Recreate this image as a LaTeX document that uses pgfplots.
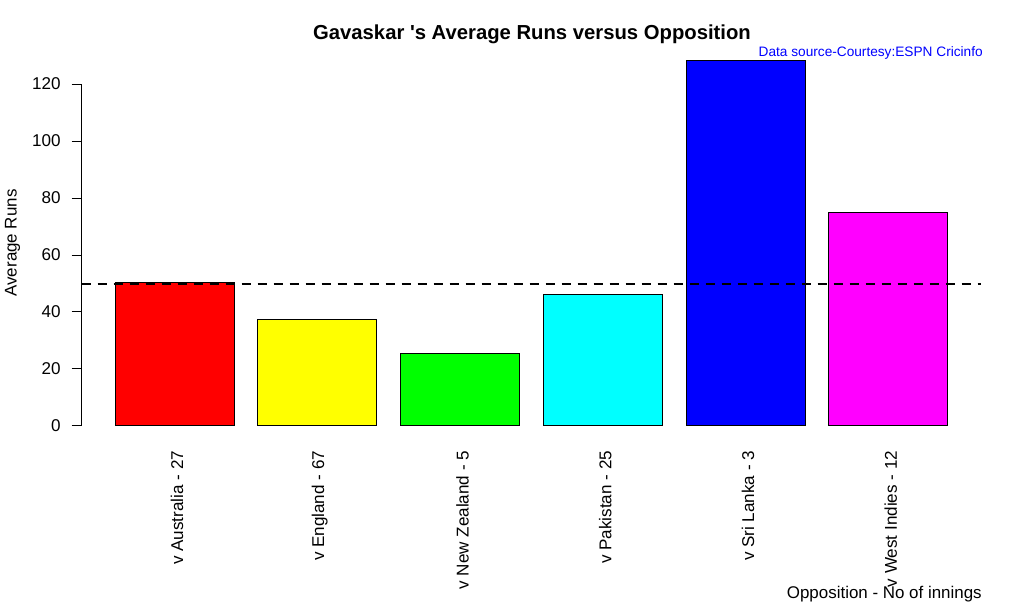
\documentclass[border=0pt]{standalone}
\usepackage{fontspec}
\setmainfont{Liberation Sans}
\usepackage{pgfplots}
\pgfplotsset{compat=1.18}
\definecolor{rred}{RGB}{255,0,0}
\definecolor{ryellow}{RGB}{255,255,0}
\definecolor{rgreen}{RGB}{0,255,0}
\definecolor{rcyan}{RGB}{0,255,255}
\definecolor{rblue}{RGB}{0,0,255}
\definecolor{rmagenta}{RGB}{255,0,255}
\begin{document}
\begin{tikzpicture}
\useasboundingbox (0pt,0pt) rectangle (768pt,460.5pt);
\begin{axis}[
  at={(61.275pt,130.05pt)}, anchor=south west,
  scale only axis, width=674.7pt, height=295.7pt,
  xmin=-0.08, xmax=7.48, ymin=-5.124, ymax=133.22,
  clip=false,
  axis line style={draw=none},
  ytick={0,20,...,120}, ytick pos=left, tick align=outside,
  major tick length=7.5pt,
  ytick style={black, line width=0.75pt},
  xtick={0.7,1.9,3.1,4.3,5.5,6.7},
  xticklabels={v Australia - 27, v England - 67, v New Zealand - 5, v Pakistan - 25, v Sri Lanka - 3, v West Indies - 12},
  xtick style={draw=none},
  xtick pos=bottom,
  tick label style={font=\fontsize{12.8}{15}\selectfont},
  /pgf/number format/assume math mode=true,
  xticklabel style={rotate=90, anchor=east, inner sep=0pt, yshift=-1.8pt},
  yticklabel style={anchor=east, inner sep=0pt, xshift=-8.2pt},
]
\addplot[ybar, bar width=1, fill=rred, draw=black, line width=0.75pt] coordinates {(0.7,50.5)};
\addplot[ybar, bar width=1, fill=ryellow, draw=black, line width=0.75pt] coordinates {(1.9,37.2)};
\addplot[ybar, bar width=1, fill=rgreen, draw=black, line width=0.75pt] coordinates {(3.1,25.3)};
\addplot[ybar, bar width=1, fill=rcyan, draw=black, line width=0.75pt] coordinates {(4.3,46.0)};
\addplot[ybar, bar width=1, fill=rblue, draw=black, line width=0.75pt] coordinates {(5.5,128.1)};
\addplot[ybar, bar width=1, fill=rmagenta, draw=black, line width=0.75pt] coordinates {(6.7,75.0)};
\addplot[black, line width=1.5pt, dash pattern=on 6.75pt off 5.25pt] coordinates {(-0.08,50) (7.48,50)};
\draw[line width=0.75pt] (axis cs:-0.08,0) -- (axis cs:-0.08,120);
\end{axis}
\node[anchor=base, font=\bfseries\fontsize{15.2}{18}\selectfont] at (399pt,430.5pt) {Gavaskar \textquotesingle s Average Runs versus Opposition};
\node[anchor=base east, text=rblue, font=\fontsize{10.25}{12}\selectfont, inner sep=0pt] at (737.25pt,417.75pt) {Data source-Courtesy:ESPN Cricinfo};
\node[anchor=base east, font=\fontsize{12.7}{15}\selectfont, inner sep=0pt] at (736.5pt,12pt) {Opposition - No of innings};
\node[anchor=base, rotate=90, font=\fontsize{12.7}{15}\selectfont, inner sep=0pt] at (12.4pt,278.25pt) {Average Runs};
\end{tikzpicture}
\end{document}
